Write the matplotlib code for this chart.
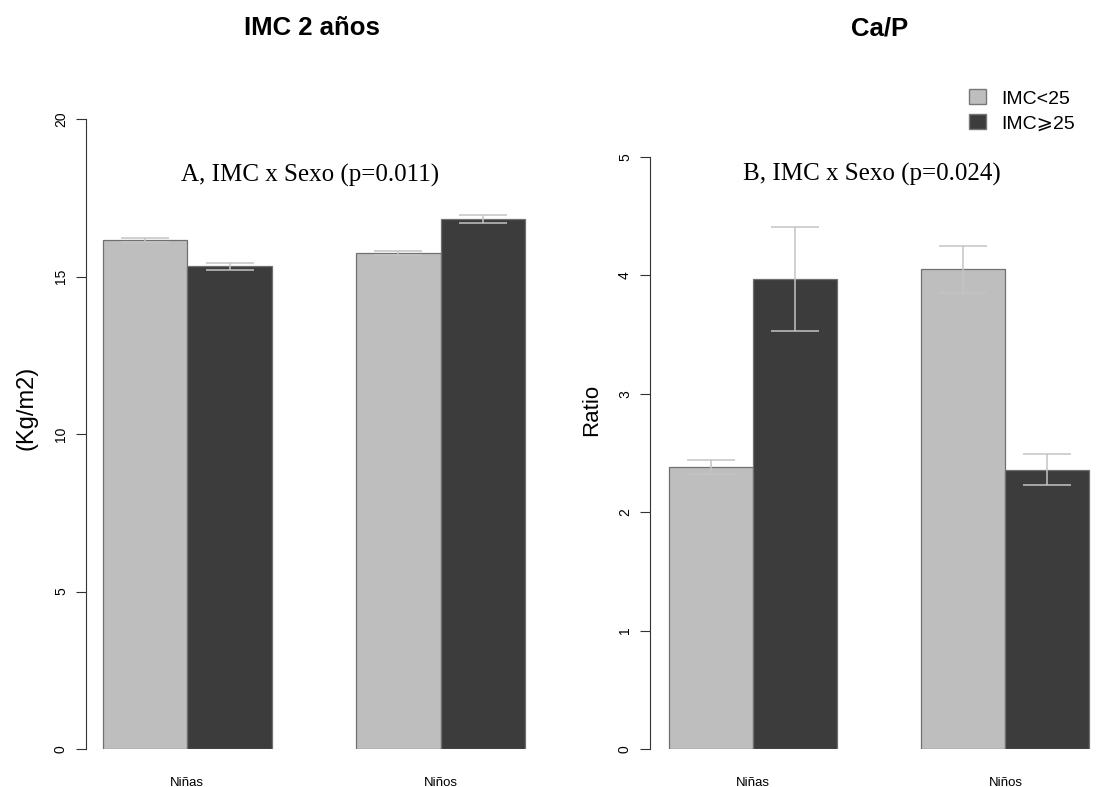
import numpy as np
import matplotlib.pyplot as plt
from matplotlib.patches import Patch

plt.rcParams['font.family'] = ['Liberation Sans', 'DejaVu Sans']

# Data
groups = ['Niñas', 'Niños']
series = ['IMC<25', 'IMC⩾25']
colors = ['#bebebe', '#3c3c3c']

imc_means = [[16.15, 15.75], [15.32, 16.82]]   # [series][group]
imc_err = [[0.06, 0.06], [0.12, 0.12]]

cap_means = [[2.38, 4.05], [3.97, 2.36]]
cap_err = [[0.06, 0.20], [0.44, 0.13]]

W, H = 1102, 787
fig = plt.figure(figsize=(W / 100, H / 100), dpi=100)


def px_axes(x0, x1, y0, y1):
    return fig.add_axes([x0 / W, 1 - y1 / H, (x1 - x0) / W, (y1 - y0) / H])


def draw_panel(ax, means, errs, ymax, yticks, ylabel, note, xlim, note_xy, ylab_size):
    left = [1, 4]
    for s in range(2):
        xs = np.array(left) + s + 0.5
        ax.bar(xs, means[s], width=1, color=colors[s], edgecolor='#707070', linewidth=0.9, zorder=2)
        ax.errorbar(xs, means[s], yerr=errs[s], fmt='none', ecolor='#c4c4c4',
                    elinewidth=1.1, capsize=17, capthick=1.1, zorder=3)
    ax.set_xlim(*xlim)
    ax.set_ylim(0, ymax)
    for sp in ['top', 'right', 'bottom']:
        ax.spines[sp].set_visible(False)
    ax.spines['left'].set_color('#333333')
    ax.set_yticks(yticks)
    ax.set_yticklabels([str(t) for t in yticks], rotation=90, va='center', fontsize=10)
    ax.tick_params(axis='y', length=7, color='#333333', pad=6)
    ax.set_xticks([2, 5])
    ax.set_xticklabels(groups, fontsize=9.5)
    ax.tick_params(axis='x', length=0, pad=20)
    ax.set_ylabel(ylabel, fontsize=ylab_size)
    ax.text(note_xy[0], note_xy[1], note, ha='center', va='center', fontsize=18,
            family='Liberation Serif')


ax1 = px_axes(86, 542, 119, 749)
draw_panel(ax1, imc_means, imc_err, 20, [0, 5, 10, 15, 20], '(Kg/m2)',
           'A, IMC x Sexo (p=0.011)', (0.8, 6.2), (3.45, 18.2), 17)
ax1.yaxis.set_label_coords(-0.107, 0.541)

ax2 = px_axes(650, 1102, 157, 749)
draw_panel(ax2, cap_means, cap_err, 5, [0, 1, 2, 3, 4, 5], 'Ratio',
           'B, IMC x Sexo (p=0.024)', (0.77, 6.15), (3.41, 4.85), 16)
ax2.yaxis.set_label_coords(-0.106, 0.573)

fig.text(312 / W, 1 - 28 / H, 'IMC 2 años', ha='center', va='center', fontsize=18.5, fontweight='bold')
fig.text(880 / W, 1 - 28 / H, 'Ca/P', ha='center', va='center', fontsize=18.5, fontweight='bold')

handles = [Patch(facecolor=c, edgecolor='#777777') for c in colors]
fig.legend(handles, series, loc='upper left', bbox_to_anchor=(951 / W, 1 - 72 / H),
           frameon=False, fontsize=14, handlelength=0.9, handleheight=0.8,
           handletextpad=0.8, labelspacing=0.35)

fig.savefig('out.png', dpi=100)
